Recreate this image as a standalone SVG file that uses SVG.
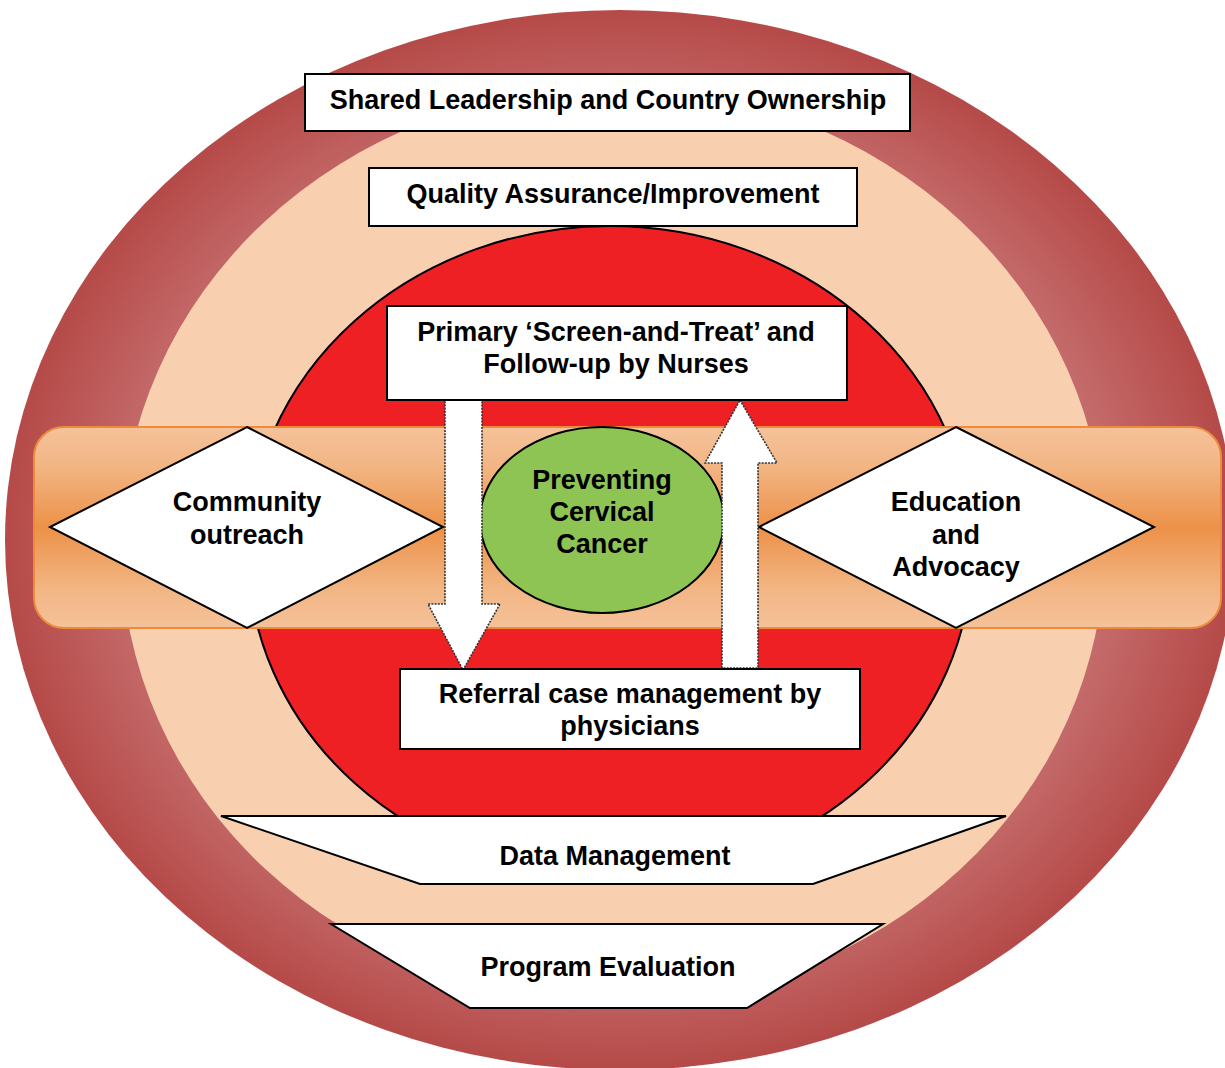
<svg xmlns="http://www.w3.org/2000/svg" width="1225" height="1068" viewBox="0 0 1225 1068">
<defs>
<radialGradient id="gOuter" cx="0.5" cy="0.5" r="0.5">
<stop offset="0" stop-color="#C87474"/>
<stop offset="0.8" stop-color="#C46A6A"/>
<stop offset="1" stop-color="#B54A48"/>
</radialGradient>
<linearGradient id="gBand" x1="0" y1="0" x2="0" y2="1">
<stop offset="0" stop-color="#F5C29A"/>
<stop offset="0.2" stop-color="#F2B583"/>
<stop offset="0.5" stop-color="#EC9148"/>
<stop offset="0.8" stop-color="#F2B583"/>
<stop offset="1" stop-color="#F5C29A"/>
</linearGradient>
</defs>
<style>
text{font-family:"Liberation Sans",Arial,Helvetica,sans-serif;font-weight:bold;font-size:27px;fill:#000;text-anchor:middle}
.box{fill:#fff;stroke:#000;stroke-width:2}
.arrow{fill:#fff;stroke:#333;stroke-width:1.6;stroke-dasharray:2 1.2}
</style>
<g id="outer-ring">
<ellipse cx="620" cy="540" rx="615" ry="530" fill="url(#gOuter)"/>
</g>
<g id="peach-ring">
<ellipse cx="613" cy="545" rx="492" ry="458" fill="#F8D0B0"/>
</g>
<g id="red-circle">
<ellipse cx="610" cy="552" rx="362" ry="326" fill="#EE2024" stroke="#000" stroke-width="2"/>
</g>
<g id="band">
<rect x="34" y="427" width="1187" height="201" rx="30" ry="30" fill="url(#gBand)" stroke="#EE8A3C" stroke-width="2"/>
</g>
<g id="community-outreach">
<polygon points="247,427 443,527 247,628 50,527" class="box"/>
<text x="247" y="511">Community</text>
<text x="247" y="544">outreach</text>
</g>
<g id="education-advocacy">
<polygon points="956,427 1154,527 956,628 759,527" class="box"/>
<text x="956" y="511">Education</text>
<text x="956" y="544">and</text>
<text x="956" y="576">Advocacy</text>
</g>
<g id="preventing-cervical-cancer">
<ellipse cx="602" cy="520" rx="122" ry="93" fill="#8DC453" stroke="#000" stroke-width="2"/>
<text x="602" y="489">Preventing</text>
<text x="602" y="521">Cervical</text>
<text x="602" y="553">Cancer</text>
</g>
<g id="connectors">
<polygon class="arrow" points="445,400 482,400 482,604 500,604 463,670 428,604 445,604"/>
<polygon class="arrow" points="740,400 777,463 758,463 758,668 722,668 722,463 705,463"/>
</g>
<g id="primary-screen-and-treat">
<rect x="387" y="306" width="460" height="94" class="box"/>
<text x="616" y="341">Primary ‘Screen-and-Treat’ and</text>
<text x="616" y="373">Follow-up by Nurses</text>
</g>
<g id="referral-case-management">
<rect x="400" y="669" width="460" height="80" class="box"/>
<text x="630" y="703">Referral case management by</text>
<text x="630" y="735">physicians</text>
</g>
<g id="shared-leadership">
<rect x="305" y="74" width="605" height="57" class="box"/>
<text x="608" y="109">Shared Leadership and Country Ownership</text>
</g>
<g id="quality-assurance">
<rect x="369" y="168" width="488" height="58" class="box"/>
<text x="613" y="203">Quality Assurance/Improvement</text>
</g>
<g id="data-management">
<polygon points="221,816 1006,816 813,884 420,884" class="box"/>
<text x="615" y="865">Data Management</text>
</g>
<g id="program-evaluation">
<polygon points="331,924 883,924 747,1008 470,1008" class="box"/>
<text x="608" y="976">Program Evaluation</text>
</g>
</svg>
